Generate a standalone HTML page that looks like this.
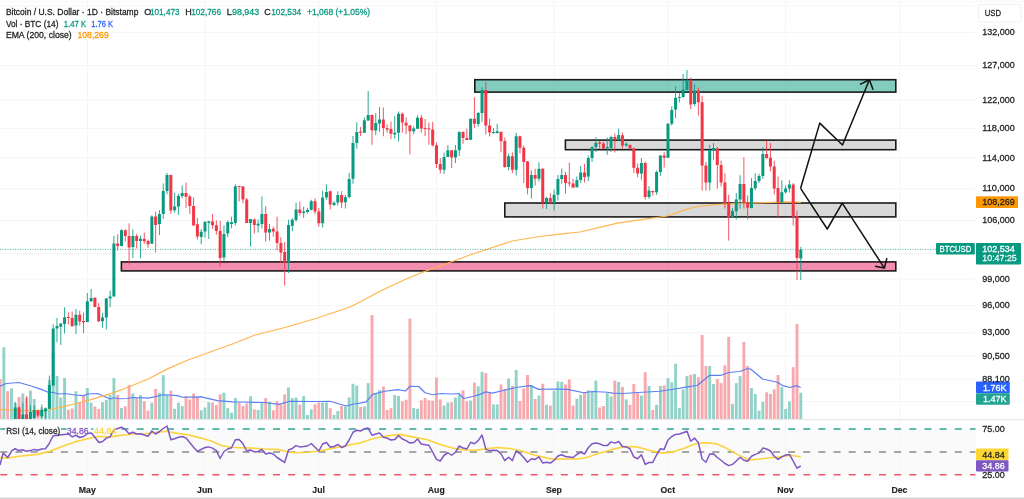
<!DOCTYPE html>
<html><head><meta charset="utf-8"><title>BTCUSD</title>
<style>html,body{margin:0;padding:0;background:#fff;overflow:hidden}body{width:1024px;height:499px;font-family:"Liberation Sans",sans-serif}</style></head>
<body>
<svg width="1024" height="499" viewBox="0 0 1024 499" style="display:block;font-family:'Liberation Sans',sans-serif">
<rect x="0" y="0" width="1024" height="499" fill="#ffffff"/>
<rect x="0" y="429" width="975.5" height="45.75" fill="#fafafa"/>
<path d="M0 32.40H975.5M0 65.50H975.5M0 99.90H975.5M0 128.50H975.5M0 158.10H975.5M0 188.75H975.5M0 220.50H975.5M0 253.50H975.5M0 279.10H975.5M0 305.50H975.5M0 332.70H975.5M0 356.10H975.5M0 379.10H975.5M0 401.50H975.5M87.50 2V480.5M205.00 2V480.5M318.85 2V480.5M436.50 2V480.5M554.10 2V480.5M668.00 2V480.5M785.60 2V480.5M899.60 2V480.5" stroke="#f5f5f6" stroke-width="1" fill="none"/>
<path d="M0 6H975.5" stroke="#f4f4f5" stroke-width="1" fill="none"/>
<path d="M0 1.4H1024" stroke="#f7f7f8" stroke-width="1" fill="none"/>
<rect x="474.80" y="79.70" width="421.00" height="12.40" fill="rgba(8,153,129,0.5)" stroke="#1a1a1a" stroke-width="1.6"/>
<rect x="565.40" y="140.10" width="330.40" height="9.60" fill="rgba(0,0,0,0.15)" stroke="#1a1a1a" stroke-width="1.6"/>
<rect x="504.80" y="203.00" width="391.00" height="13.90" fill="rgba(0,0,0,0.15)" stroke="#1a1a1a" stroke-width="1.6"/>
<rect x="121.40" y="261.90" width="774.40" height="9.00" fill="rgba(233,30,99,0.5)" stroke="#1a1a1a" stroke-width="1.6"/>
<rect x="-1.39" y="379.00" width="2.9" height="40.00" fill="#f8a9ae"/>
<rect x="2.40" y="347.25" width="2.9" height="71.75" fill="#92d2c8"/>
<rect x="6.19" y="391.25" width="2.9" height="27.75" fill="#f8a9ae"/>
<rect x="9.99" y="388.40" width="2.9" height="30.60" fill="#92d2c8"/>
<rect x="13.79" y="403.00" width="2.9" height="16.00" fill="#92d2c8"/>
<rect x="17.58" y="397.00" width="2.9" height="22.00" fill="#f8a9ae"/>
<rect x="21.38" y="393.50" width="2.9" height="25.50" fill="#92d2c8"/>
<rect x="25.17" y="397.75" width="2.9" height="21.25" fill="#f8a9ae"/>
<rect x="28.96" y="390.60" width="2.9" height="28.40" fill="#92d2c8"/>
<rect x="32.76" y="399.00" width="2.9" height="20.00" fill="#92d2c8"/>
<rect x="36.55" y="409.75" width="2.9" height="9.25" fill="#f8a9ae"/>
<rect x="40.35" y="407.50" width="2.9" height="11.50" fill="#92d2c8"/>
<rect x="44.14" y="408.00" width="2.9" height="11.00" fill="#92d2c8"/>
<rect x="47.94" y="380.00" width="2.9" height="39.00" fill="#92d2c8"/>
<rect x="51.73" y="352.00" width="2.9" height="67.00" fill="#92d2c8"/>
<rect x="55.53" y="376.00" width="2.9" height="43.00" fill="#92d2c8"/>
<rect x="59.32" y="397.50" width="2.9" height="21.50" fill="#92d2c8"/>
<rect x="63.12" y="378.00" width="2.9" height="41.00" fill="#92d2c8"/>
<rect x="66.91" y="409.75" width="2.9" height="9.25" fill="#f8a9ae"/>
<rect x="70.71" y="408.50" width="2.9" height="10.50" fill="#f8a9ae"/>
<rect x="74.50" y="391.25" width="2.9" height="27.75" fill="#92d2c8"/>
<rect x="78.30" y="403.00" width="2.9" height="16.00" fill="#f8a9ae"/>
<rect x="82.09" y="395.00" width="2.9" height="24.00" fill="#f8a9ae"/>
<rect x="85.89" y="388.00" width="2.9" height="31.00" fill="#92d2c8"/>
<rect x="89.68" y="402.75" width="2.9" height="16.25" fill="#92d2c8"/>
<rect x="93.48" y="406.50" width="2.9" height="12.50" fill="#f8a9ae"/>
<rect x="97.27" y="409.00" width="2.9" height="10.00" fill="#f8a9ae"/>
<rect x="101.07" y="402.25" width="2.9" height="16.75" fill="#92d2c8"/>
<rect x="104.86" y="400.00" width="2.9" height="19.00" fill="#92d2c8"/>
<rect x="108.66" y="395.00" width="2.9" height="24.00" fill="#92d2c8"/>
<rect x="112.45" y="378.00" width="2.9" height="41.00" fill="#92d2c8"/>
<rect x="116.25" y="395.00" width="2.9" height="24.00" fill="#f8a9ae"/>
<rect x="120.04" y="408.10" width="2.9" height="10.90" fill="#92d2c8"/>
<rect x="123.84" y="406.25" width="2.9" height="12.75" fill="#f8a9ae"/>
<rect x="127.64" y="385.00" width="2.9" height="34.00" fill="#f8a9ae"/>
<rect x="131.43" y="393.50" width="2.9" height="25.50" fill="#92d2c8"/>
<rect x="135.22" y="398.10" width="2.9" height="20.90" fill="#f8a9ae"/>
<rect x="139.02" y="395.00" width="2.9" height="24.00" fill="#92d2c8"/>
<rect x="142.81" y="401.25" width="2.9" height="17.75" fill="#f8a9ae"/>
<rect x="146.61" y="410.60" width="2.9" height="8.40" fill="#f8a9ae"/>
<rect x="150.41" y="402.75" width="2.9" height="16.25" fill="#92d2c8"/>
<rect x="154.20" y="389.00" width="2.9" height="30.00" fill="#f8a9ae"/>
<rect x="158.00" y="392.75" width="2.9" height="26.25" fill="#92d2c8"/>
<rect x="161.79" y="375.25" width="2.9" height="43.75" fill="#92d2c8"/>
<rect x="165.59" y="394.75" width="2.9" height="24.25" fill="#92d2c8"/>
<rect x="169.38" y="390.60" width="2.9" height="28.40" fill="#f8a9ae"/>
<rect x="173.18" y="408.75" width="2.9" height="10.25" fill="#92d2c8"/>
<rect x="176.97" y="402.75" width="2.9" height="16.25" fill="#92d2c8"/>
<rect x="180.77" y="406.00" width="2.9" height="13.00" fill="#92d2c8"/>
<rect x="184.56" y="396.00" width="2.9" height="23.00" fill="#f8a9ae"/>
<rect x="188.35" y="399.40" width="2.9" height="19.60" fill="#f8a9ae"/>
<rect x="192.15" y="393.50" width="2.9" height="25.50" fill="#f8a9ae"/>
<rect x="195.94" y="396.90" width="2.9" height="22.10" fill="#f8a9ae"/>
<rect x="199.74" y="410.25" width="2.9" height="8.75" fill="#92d2c8"/>
<rect x="203.53" y="407.50" width="2.9" height="11.50" fill="#92d2c8"/>
<rect x="207.33" y="402.25" width="2.9" height="16.75" fill="#92d2c8"/>
<rect x="211.12" y="402.50" width="2.9" height="16.50" fill="#f8a9ae"/>
<rect x="214.92" y="405.00" width="2.9" height="14.00" fill="#f8a9ae"/>
<rect x="218.72" y="394.40" width="2.9" height="24.60" fill="#f8a9ae"/>
<rect x="222.51" y="392.75" width="2.9" height="26.25" fill="#92d2c8"/>
<rect x="226.31" y="408.10" width="2.9" height="10.90" fill="#92d2c8"/>
<rect x="230.10" y="412.75" width="2.9" height="6.25" fill="#92d2c8"/>
<rect x="233.90" y="398.10" width="2.9" height="20.90" fill="#92d2c8"/>
<rect x="237.69" y="402.50" width="2.9" height="16.50" fill="#f8a9ae"/>
<rect x="241.49" y="406.00" width="2.9" height="13.00" fill="#f8a9ae"/>
<rect x="245.28" y="403.50" width="2.9" height="15.50" fill="#f8a9ae"/>
<rect x="249.07" y="396.25" width="2.9" height="22.75" fill="#92d2c8"/>
<rect x="252.87" y="409.40" width="2.9" height="9.60" fill="#f8a9ae"/>
<rect x="256.67" y="410.00" width="2.9" height="9.00" fill="#92d2c8"/>
<rect x="260.46" y="403.10" width="2.9" height="15.90" fill="#92d2c8"/>
<rect x="264.26" y="398.10" width="2.9" height="20.90" fill="#f8a9ae"/>
<rect x="268.05" y="401.90" width="2.9" height="17.10" fill="#92d2c8"/>
<rect x="271.85" y="410.25" width="2.9" height="8.75" fill="#f8a9ae"/>
<rect x="275.64" y="401.25" width="2.9" height="17.75" fill="#f8a9ae"/>
<rect x="279.44" y="404.40" width="2.9" height="14.60" fill="#f8a9ae"/>
<rect x="283.23" y="394.40" width="2.9" height="24.60" fill="#f8a9ae"/>
<rect x="287.03" y="387.50" width="2.9" height="31.50" fill="#92d2c8"/>
<rect x="290.82" y="398.10" width="2.9" height="20.90" fill="#92d2c8"/>
<rect x="294.62" y="397.50" width="2.9" height="21.50" fill="#92d2c8"/>
<rect x="298.41" y="404.75" width="2.9" height="14.25" fill="#f8a9ae"/>
<rect x="302.21" y="396.00" width="2.9" height="23.00" fill="#92d2c8"/>
<rect x="306.00" y="415.00" width="2.9" height="4.00" fill="#92d2c8"/>
<rect x="309.80" y="409.40" width="2.9" height="9.60" fill="#92d2c8"/>
<rect x="313.59" y="404.40" width="2.9" height="14.60" fill="#f8a9ae"/>
<rect x="317.39" y="402.50" width="2.9" height="16.50" fill="#f8a9ae"/>
<rect x="321.18" y="402.50" width="2.9" height="16.50" fill="#92d2c8"/>
<rect x="324.98" y="402.50" width="2.9" height="16.50" fill="#92d2c8"/>
<rect x="328.77" y="408.10" width="2.9" height="10.90" fill="#f8a9ae"/>
<rect x="332.57" y="415.00" width="2.9" height="4.00" fill="#92d2c8"/>
<rect x="336.36" y="411.00" width="2.9" height="8.00" fill="#92d2c8"/>
<rect x="340.16" y="406.00" width="2.9" height="13.00" fill="#f8a9ae"/>
<rect x="343.95" y="406.50" width="2.9" height="12.50" fill="#92d2c8"/>
<rect x="347.75" y="397.50" width="2.9" height="21.50" fill="#92d2c8"/>
<rect x="351.54" y="383.75" width="2.9" height="35.25" fill="#92d2c8"/>
<rect x="355.34" y="385.60" width="2.9" height="33.40" fill="#92d2c8"/>
<rect x="359.13" y="407.00" width="2.9" height="12.00" fill="#f8a9ae"/>
<rect x="362.93" y="406.50" width="2.9" height="12.50" fill="#92d2c8"/>
<rect x="366.72" y="383.10" width="2.9" height="35.90" fill="#92d2c8"/>
<rect x="370.52" y="315.00" width="2.9" height="104.00" fill="#f8a9ae"/>
<rect x="374.31" y="393.50" width="2.9" height="25.50" fill="#92d2c8"/>
<rect x="378.11" y="390.00" width="2.9" height="29.00" fill="#92d2c8"/>
<rect x="381.90" y="386.50" width="2.9" height="32.50" fill="#f8a9ae"/>
<rect x="385.70" y="410.00" width="2.9" height="9.00" fill="#f8a9ae"/>
<rect x="389.49" y="408.10" width="2.9" height="10.90" fill="#f8a9ae"/>
<rect x="393.29" y="395.00" width="2.9" height="24.00" fill="#92d2c8"/>
<rect x="397.08" y="396.00" width="2.9" height="23.00" fill="#92d2c8"/>
<rect x="400.88" y="401.25" width="2.9" height="17.75" fill="#f8a9ae"/>
<rect x="404.67" y="399.75" width="2.9" height="19.25" fill="#f8a9ae"/>
<rect x="408.47" y="318.50" width="2.9" height="100.50" fill="#f8a9ae"/>
<rect x="412.26" y="408.10" width="2.9" height="10.90" fill="#92d2c8"/>
<rect x="416.06" y="408.75" width="2.9" height="10.25" fill="#92d2c8"/>
<rect x="419.85" y="400.25" width="2.9" height="18.75" fill="#f8a9ae"/>
<rect x="423.65" y="398.10" width="2.9" height="20.90" fill="#f8a9ae"/>
<rect x="427.44" y="400.25" width="2.9" height="18.75" fill="#f8a9ae"/>
<rect x="431.24" y="400.60" width="2.9" height="18.40" fill="#f8a9ae"/>
<rect x="435.03" y="377.50" width="2.9" height="41.50" fill="#f8a9ae"/>
<rect x="438.83" y="399.40" width="2.9" height="19.60" fill="#f8a9ae"/>
<rect x="442.62" y="405.60" width="2.9" height="13.40" fill="#92d2c8"/>
<rect x="446.42" y="402.50" width="2.9" height="16.50" fill="#92d2c8"/>
<rect x="450.21" y="402.25" width="2.9" height="16.75" fill="#f8a9ae"/>
<rect x="454.01" y="397.50" width="2.9" height="21.50" fill="#92d2c8"/>
<rect x="457.80" y="395.00" width="2.9" height="24.00" fill="#92d2c8"/>
<rect x="461.60" y="390.25" width="2.9" height="28.75" fill="#f8a9ae"/>
<rect x="465.39" y="401.25" width="2.9" height="17.75" fill="#f8a9ae"/>
<rect x="469.19" y="400.60" width="2.9" height="18.40" fill="#92d2c8"/>
<rect x="472.98" y="382.50" width="2.9" height="36.50" fill="#f8a9ae"/>
<rect x="476.78" y="386.25" width="2.9" height="32.75" fill="#92d2c8"/>
<rect x="480.57" y="371.90" width="2.9" height="47.10" fill="#92d2c8"/>
<rect x="484.37" y="373.10" width="2.9" height="45.90" fill="#f8a9ae"/>
<rect x="488.16" y="393.10" width="2.9" height="25.90" fill="#f8a9ae"/>
<rect x="491.96" y="404.40" width="2.9" height="14.60" fill="#92d2c8"/>
<rect x="495.75" y="404.40" width="2.9" height="14.60" fill="#92d2c8"/>
<rect x="499.55" y="384.40" width="2.9" height="34.60" fill="#f8a9ae"/>
<rect x="503.34" y="389.00" width="2.9" height="30.00" fill="#f8a9ae"/>
<rect x="507.14" y="378.50" width="2.9" height="40.50" fill="#92d2c8"/>
<rect x="510.93" y="386.00" width="2.9" height="33.00" fill="#f8a9ae"/>
<rect x="514.73" y="370.00" width="2.9" height="49.00" fill="#92d2c8"/>
<rect x="518.52" y="401.00" width="2.9" height="18.00" fill="#f8a9ae"/>
<rect x="522.31" y="388.50" width="2.9" height="30.50" fill="#f8a9ae"/>
<rect x="526.11" y="375.00" width="2.9" height="44.00" fill="#f8a9ae"/>
<rect x="529.90" y="385.00" width="2.9" height="34.00" fill="#92d2c8"/>
<rect x="533.70" y="399.00" width="2.9" height="20.00" fill="#f8a9ae"/>
<rect x="537.50" y="395.60" width="2.9" height="23.40" fill="#92d2c8"/>
<rect x="541.29" y="383.75" width="2.9" height="35.25" fill="#f8a9ae"/>
<rect x="545.08" y="404.75" width="2.9" height="14.25" fill="#92d2c8"/>
<rect x="548.88" y="405.60" width="2.9" height="13.40" fill="#f8a9ae"/>
<rect x="552.67" y="390.60" width="2.9" height="28.40" fill="#92d2c8"/>
<rect x="556.47" y="381.50" width="2.9" height="37.50" fill="#92d2c8"/>
<rect x="560.26" y="381.90" width="2.9" height="37.10" fill="#92d2c8"/>
<rect x="564.06" y="384.40" width="2.9" height="34.60" fill="#f8a9ae"/>
<rect x="567.86" y="379.40" width="2.9" height="39.60" fill="#f8a9ae"/>
<rect x="571.65" y="405.60" width="2.9" height="13.40" fill="#f8a9ae"/>
<rect x="575.44" y="398.75" width="2.9" height="20.25" fill="#92d2c8"/>
<rect x="579.24" y="394.75" width="2.9" height="24.25" fill="#92d2c8"/>
<rect x="583.03" y="392.75" width="2.9" height="26.25" fill="#f8a9ae"/>
<rect x="586.83" y="390.25" width="2.9" height="28.75" fill="#92d2c8"/>
<rect x="590.62" y="391.90" width="2.9" height="27.10" fill="#92d2c8"/>
<rect x="594.42" y="380.60" width="2.9" height="38.40" fill="#92d2c8"/>
<rect x="598.21" y="407.50" width="2.9" height="11.50" fill="#f8a9ae"/>
<rect x="602.01" y="406.00" width="2.9" height="13.00" fill="#f8a9ae"/>
<rect x="605.80" y="392.75" width="2.9" height="26.25" fill="#92d2c8"/>
<rect x="609.60" y="396.50" width="2.9" height="22.50" fill="#92d2c8"/>
<rect x="613.39" y="380.60" width="2.9" height="38.40" fill="#f8a9ae"/>
<rect x="617.19" y="381.90" width="2.9" height="37.10" fill="#92d2c8"/>
<rect x="620.99" y="386.90" width="2.9" height="32.10" fill="#f8a9ae"/>
<rect x="624.78" y="399.40" width="2.9" height="19.60" fill="#92d2c8"/>
<rect x="628.57" y="404.75" width="2.9" height="14.25" fill="#f8a9ae"/>
<rect x="632.37" y="384.00" width="2.9" height="35.00" fill="#f8a9ae"/>
<rect x="636.16" y="393.10" width="2.9" height="25.90" fill="#f8a9ae"/>
<rect x="639.96" y="395.60" width="2.9" height="23.40" fill="#92d2c8"/>
<rect x="643.75" y="372.25" width="2.9" height="46.75" fill="#f8a9ae"/>
<rect x="647.55" y="386.00" width="2.9" height="33.00" fill="#92d2c8"/>
<rect x="651.34" y="410.00" width="2.9" height="9.00" fill="#f8a9ae"/>
<rect x="655.14" y="404.75" width="2.9" height="14.25" fill="#92d2c8"/>
<rect x="658.93" y="386.00" width="2.9" height="33.00" fill="#92d2c8"/>
<rect x="662.73" y="385.40" width="2.9" height="33.60" fill="#f8a9ae"/>
<rect x="666.52" y="378.10" width="2.9" height="40.90" fill="#92d2c8"/>
<rect x="670.32" y="382.25" width="2.9" height="36.75" fill="#92d2c8"/>
<rect x="674.12" y="363.75" width="2.9" height="55.25" fill="#92d2c8"/>
<rect x="677.91" y="408.10" width="2.9" height="10.90" fill="#92d2c8"/>
<rect x="681.70" y="389.40" width="2.9" height="29.60" fill="#92d2c8"/>
<rect x="685.50" y="376.00" width="2.9" height="43.00" fill="#92d2c8"/>
<rect x="689.29" y="374.75" width="2.9" height="44.25" fill="#f8a9ae"/>
<rect x="693.09" y="374.00" width="2.9" height="45.00" fill="#92d2c8"/>
<rect x="696.88" y="377.25" width="2.9" height="41.75" fill="#f8a9ae"/>
<rect x="700.68" y="335.00" width="2.9" height="84.00" fill="#f8a9ae"/>
<rect x="704.47" y="366.00" width="2.9" height="53.00" fill="#f8a9ae"/>
<rect x="708.27" y="366.00" width="2.9" height="53.00" fill="#92d2c8"/>
<rect x="712.06" y="384.00" width="2.9" height="35.00" fill="#92d2c8"/>
<rect x="715.86" y="379.00" width="2.9" height="40.00" fill="#f8a9ae"/>
<rect x="719.65" y="383.10" width="2.9" height="35.90" fill="#f8a9ae"/>
<rect x="723.45" y="365.25" width="2.9" height="53.75" fill="#f8a9ae"/>
<rect x="727.25" y="336.90" width="2.9" height="82.10" fill="#f8a9ae"/>
<rect x="731.04" y="403.75" width="2.9" height="15.25" fill="#92d2c8"/>
<rect x="734.83" y="383.10" width="2.9" height="35.90" fill="#92d2c8"/>
<rect x="738.63" y="376.00" width="2.9" height="43.00" fill="#92d2c8"/>
<rect x="742.42" y="341.90" width="2.9" height="77.10" fill="#f8a9ae"/>
<rect x="746.22" y="366.00" width="2.9" height="53.00" fill="#f8a9ae"/>
<rect x="750.01" y="388.10" width="2.9" height="30.90" fill="#92d2c8"/>
<rect x="753.81" y="394.00" width="2.9" height="25.00" fill="#92d2c8"/>
<rect x="757.61" y="410.60" width="2.9" height="8.40" fill="#92d2c8"/>
<rect x="761.40" y="401.90" width="2.9" height="17.10" fill="#92d2c8"/>
<rect x="765.19" y="392.25" width="2.9" height="26.75" fill="#f8a9ae"/>
<rect x="768.99" y="394.00" width="2.9" height="25.00" fill="#f8a9ae"/>
<rect x="772.78" y="389.40" width="2.9" height="29.60" fill="#f8a9ae"/>
<rect x="776.58" y="375.00" width="2.9" height="44.00" fill="#f8a9ae"/>
<rect x="780.38" y="387.25" width="2.9" height="31.75" fill="#92d2c8"/>
<rect x="784.17" y="409.00" width="2.9" height="10.00" fill="#92d2c8"/>
<rect x="787.96" y="401.50" width="2.9" height="17.50" fill="#92d2c8"/>
<rect x="791.76" y="367.25" width="2.9" height="51.75" fill="#f8a9ae"/>
<rect x="795.55" y="324.00" width="2.9" height="95.00" fill="#f8a9ae"/>
<rect x="799.35" y="392.75" width="2.9" height="26.25" fill="#92d2c8"/>
<polyline fill="none" stroke="#5b80f5" stroke-width="1.25" stroke-linejoin="round" points="0.00,386.25 6.25,383.50 18.75,382.50 31.25,386.00 41.25,389.40 48.75,392.50 52.50,392.25 58.75,394.00 65.00,393.50 75.00,395.00 83.75,395.60 87.50,394.00 97.50,393.50 103.75,396.25 110.00,399.00 114.00,397.75 118.75,398.75 128.00,398.50 132.50,397.50 148.75,398.10 163.25,394.75 177.50,395.60 182.50,397.25 201.25,396.90 217.50,400.60 232.50,401.90 240.00,402.00 265.00,402.50 278.75,404.40 290.00,401.25 315.00,401.50 330.00,401.25 346.25,406.00 355.00,403.75 360.00,403.10 366.25,401.90 372.50,394.40 385.00,391.25 397.50,389.60 405.60,391.00 410.00,386.25 418.75,386.50 425.00,392.75 432.50,394.75 441.25,393.50 452.50,394.00 458.75,393.50 463.75,398.50 472.50,396.50 480.00,394.40 485.60,391.90 492.50,393.10 505.00,390.00 517.50,387.25 530.60,385.60 538.75,389.40 555.00,389.00 567.50,389.40 583.75,392.75 592.50,391.50 608.00,392.25 612.50,393.10 622.50,393.50 642.50,392.25 660.00,391.25 675.00,389.00 687.50,386.90 697.50,385.25 709.75,375.25 721.25,375.25 728.75,372.50 740.00,371.50 747.50,368.50 751.25,369.40 762.50,379.00 777.50,382.25 782.50,385.60 790.00,387.50 796.25,385.60 800.75,387.50"/>
<polyline fill="none" stroke="#ffb54d" stroke-width="1.2" stroke-linejoin="round" points="0.00,409.40 12.50,410.25 31.00,410.60 41.00,410.25 50.00,409.75 62.50,406.90 75.00,403.75 87.50,400.60 100.00,396.90 112.50,393.10 128.00,387.25 148.75,378.75 168.00,368.60 188.00,360.00 210.00,352.00 232.50,344.00 255.00,335.00 285.00,327.50 315.00,318.75 350.00,307.00 360.00,302.00 380.00,291.25 405.00,279.50 425.00,271.25 436.00,267.50 470.00,255.00 512.00,241.00 540.00,236.50 562.00,233.80 580.00,232.00 617.50,223.10 645.00,219.10 667.50,216.00 686.00,209.40 697.50,206.50 708.00,205.30 715.00,204.50 740.00,203.30 765.00,202.60 790.00,201.80 797.00,202.10 800.80,202.40"/>
<path d="M0 249.4H936" stroke="#089981" stroke-width="1" stroke-dasharray="1 1.5" fill="none" opacity="0.7"/>
<path d="M15.23 402.00V419.00M22.83 402.75V419.00M30.41 405.40V419.00M34.21 405.60V419.00M41.80 404.40V418.00M45.59 407.50V418.75M49.39 375.60V409.00M53.19 324.25V386.00M56.98 318.00V342.40M60.77 323.50V344.90M64.57 307.25V333.60M75.95 309.00V334.00M87.34 293.00V322.25M91.13 289.00V302.00M102.52 313.00V327.75M106.31 298.10V329.60M110.11 290.60V307.25M113.90 235.90V296.50M121.49 229.00V246.25M132.88 229.25V258.00M140.47 235.50V258.40M151.85 215.25V243.75M159.44 210.00V235.00M163.24 183.40V219.00M167.03 173.00V194.25M174.62 193.00V212.75M178.42 193.75V215.00M182.22 185.50V198.40M201.19 229.00V244.25M204.98 220.90V237.75M208.78 220.90V239.00M223.96 225.40V260.75M227.75 220.50V237.00M231.55 216.60V228.25M235.34 184.40V225.40M250.52 218.90V246.60M258.12 219.50V232.50M261.91 196.50V228.50M269.50 224.00V240.75M288.48 219.75V273.00M292.27 218.25V231.25M296.06 202.90V221.60M303.66 206.60V217.90M307.45 207.90V213.50M311.25 199.75V210.40M322.63 190.60V227.50M326.43 184.40V199.75M334.02 201.10V206.00M337.81 191.25V205.40M345.40 195.00V208.50M349.19 173.00V198.50M352.99 136.00V183.75M356.79 122.25V148.75M364.38 117.50V133.10M368.17 91.00V120.80M375.76 113.00V135.25M379.56 106.90V131.90M394.74 116.00V138.75M398.53 111.50V141.50M413.71 126.25V134.40M417.50 115.25V129.00M444.07 152.50V174.00M447.87 145.00V157.00M455.46 145.00V163.00M459.25 131.25V156.00M470.63 118.50V140.00M478.23 111.90V126.90M482.02 87.25V121.90M493.41 128.00V133.75M497.20 123.75V133.75M508.59 153.50V170.25M516.18 132.75V175.60M531.36 170.25V198.50M538.95 162.25V181.50M546.53 196.90V209.00M554.12 189.40V210.60M557.92 175.00V200.60M561.72 168.50V183.75M576.89 176.40V187.50M580.69 166.00V183.10M588.28 155.60V181.25M592.08 146.25V161.90M595.87 137.25V151.90M607.25 137.50V154.75M611.05 135.60V151.90M618.64 128.50V141.25M626.23 141.90V146.90M641.41 158.10V179.75M649.00 186.00V198.75M656.59 170.60V194.75M660.38 155.00V176.00M667.98 123.10V158.00M671.77 106.25V125.60M675.57 86.25V118.10M679.36 93.10V102.50M683.15 74.00V98.10M686.95 70.00V91.90M694.54 84.40V106.00M709.72 144.75V190.60M713.51 143.10V159.75M732.49 208.10V217.50M736.28 193.10V219.40M740.08 175.25V208.75M751.47 178.10V208.25M755.26 173.10V190.25M759.06 173.75V183.10M762.85 147.25V178.75M781.83 180.25V202.50M785.62 185.25V193.50M789.41 180.25V192.50M800.80 246.90V280.00" stroke="#089981" stroke-width="0.85" fill="none"/>
<path d="M19.03 406.25V419.00M26.62 396.00V419.00M38.01 410.00V417.00M68.36 312.50V324.40M72.16 311.60V326.50M79.75 310.60V325.60M83.54 312.50V333.25M94.93 297.50V307.10M98.72 303.00V322.00M117.70 234.25V250.50M125.29 229.25V241.50M129.09 223.40V264.60M136.67 234.00V248.40M144.26 232.50V243.75M148.06 239.60V247.75M155.65 211.75V252.50M170.83 174.60V213.75M186.01 182.50V207.75M189.80 194.60V214.00M193.60 197.50V225.50M197.39 218.00V239.60M212.57 214.00V229.00M216.37 220.25V234.60M220.16 220.90V266.50M239.14 185.90V201.40M242.94 186.00V203.25M246.73 198.00V223.00M254.32 218.50V233.50M265.71 206.25V241.60M273.30 226.60V236.60M277.09 216.60V250.40M280.88 237.25V263.00M284.68 242.00V285.60M299.86 201.60V215.40M315.04 198.25V214.10M318.84 207.90V226.60M330.22 190.60V209.50M341.61 191.25V208.25M360.58 126.90V136.00M371.97 114.40V144.75M383.35 107.50V136.25M387.15 124.40V132.75M390.94 121.90V139.00M402.32 112.50V132.75M406.12 117.50V134.00M409.92 125.00V154.40M421.30 115.00V132.75M425.10 119.00V136.00M428.89 122.50V144.75M432.69 121.90V146.50M436.48 142.50V168.00M440.28 158.00V173.50M451.66 150.00V168.00M463.05 131.25V143.75M466.84 128.75V140.25M474.43 97.25V128.00M485.81 81.90V134.40M489.61 118.75V136.50M501.00 131.25V152.25M504.79 137.50V167.75M512.38 152.50V173.10M519.97 135.60V153.50M523.76 145.60V183.10M527.56 161.00V194.40M535.15 168.75V185.60M542.74 168.10V208.50M550.33 193.10V203.50M565.51 171.90V193.50M569.31 162.50V186.50M573.10 178.90V188.10M584.49 164.00V182.50M599.66 140.60V148.75M603.46 141.90V148.75M614.85 133.50V152.50M622.44 132.50V148.50M630.02 144.40V149.40M633.82 147.50V173.10M637.62 163.50V177.25M645.21 161.50V199.40M652.79 190.60V195.60M664.18 151.90V167.50M690.75 77.50V109.40M698.34 87.50V115.60M702.13 95.60V190.60M705.92 161.90V190.60M717.31 146.90V188.75M721.11 160.60V186.50M724.90 173.10V208.50M728.70 194.75V240.60M743.88 157.25V208.50M747.67 195.25V219.40M766.64 140.60V158.75M770.44 143.10V171.25M774.24 160.60V194.40M778.03 176.50V218.10M793.21 183.10V225.60M797.00 210.60V280.00" stroke="#f23645" stroke-width="0.85" fill="none"/>
<path d="M13.73 407.50h3V419.00h-3zM21.33 414.40h3V419.00h-3zM28.91 412.00h3V419.00h-3zM32.71 410.00h3V418.00h-3zM40.30 410.00h3V416.25h-3zM44.09 408.75h3V411.25h-3zM47.89 385.00h3V408.75h-3zM51.69 328.60h3V385.60h-3zM55.48 326.00h3V328.60h-3zM59.27 323.60h3V326.75h-3zM63.07 317.25h3V324.00h-3zM74.45 314.75h3V325.60h-3zM85.84 301.25h3V321.90h-3zM89.63 298.00h3V301.25h-3zM101.02 317.50h3V321.25h-3zM104.81 298.50h3V317.50h-3zM108.61 296.50h3V298.50h-3zM112.40 243.40h3V296.50h-3zM119.99 230.25h3V245.90h-3zM131.38 235.90h3V247.10h-3zM138.97 238.75h3V240.90h-3zM150.35 216.50h3V243.75h-3zM157.94 214.00h3V224.00h-3zM161.74 190.90h3V214.00h-3zM165.53 175.00h3V190.90h-3zM173.12 206.50h3V210.25h-3zM176.92 195.90h3V206.50h-3zM180.72 193.00h3V195.90h-3zM199.69 231.75h3V237.10h-3zM203.48 222.00h3V231.50h-3zM207.28 221.25h3V222.75h-3zM222.46 234.00h3V257.50h-3zM226.25 222.00h3V233.50h-3zM230.05 222.25h3V224.00h-3zM233.84 186.25h3V222.90h-3zM249.02 219.00h3V222.90h-3zM256.62 223.75h3V225.40h-3zM260.41 214.00h3V224.00h-3zM268.00 229.00h3V232.50h-3zM286.98 225.00h3V262.50h-3zM290.77 219.75h3V225.75h-3zM294.56 209.50h3V220.00h-3zM302.16 211.60h3V212.90h-3zM305.95 210.00h3V212.00h-3zM309.75 201.25h3V209.75h-3zM321.13 197.50h3V223.25h-3zM324.93 191.90h3V197.50h-3zM332.52 202.75h3V205.00h-3zM336.31 195.00h3V202.60h-3zM343.90 197.25h3V202.25h-3zM347.69 179.00h3V197.10h-3zM351.49 143.10h3V178.75h-3zM355.29 131.90h3V143.10h-3zM362.88 120.25h3V132.75h-3zM366.67 115.00h3V120.60h-3zM374.26 123.00h3V130.60h-3zM378.06 119.40h3V123.50h-3zM393.24 132.75h3V134.40h-3zM397.03 113.75h3V132.75h-3zM412.21 128.50h3V131.25h-3zM416.00 117.75h3V128.75h-3zM442.57 156.90h3V169.75h-3zM446.37 150.25h3V156.90h-3zM453.96 150.25h3V157.50h-3zM457.75 131.90h3V150.25h-3zM469.13 118.75h3V139.75h-3zM476.73 113.00h3V124.00h-3zM480.52 90.00h3V113.00h-3zM491.91 131.90h3V133.10h-3zM495.70 131.25h3V132.90h-3zM507.09 156.25h3V166.90h-3zM514.68 136.25h3V169.75h-3zM529.86 175.00h3V188.10h-3zM537.45 168.75h3V178.75h-3zM545.03 198.10h3V202.25h-3zM552.62 194.75h3V203.10h-3zM556.42 179.00h3V194.75h-3zM560.22 175.00h3V179.00h-3zM575.39 179.90h3V187.25h-3zM579.19 172.50h3V180.00h-3zM586.78 158.10h3V176.50h-3zM590.58 146.90h3V158.10h-3zM594.37 142.75h3V146.90h-3zM605.75 147.25h3V148.50h-3zM609.55 136.90h3V148.10h-3zM617.14 135.00h3V139.75h-3zM624.73 143.75h3V145.60h-3zM639.91 163.10h3V173.50h-3zM647.50 190.60h3V196.90h-3zM655.09 171.90h3V192.25h-3zM658.88 155.60h3V171.90h-3zM666.48 123.75h3V157.75h-3zM670.27 110.00h3V123.75h-3zM674.07 97.75h3V109.40h-3zM677.86 96.90h3V98.10h-3zM681.65 89.40h3V96.90h-3zM685.45 80.25h3V89.75h-3zM693.04 90.60h3V104.00h-3zM708.22 150.00h3V182.50h-3zM712.01 148.10h3V150.60h-3zM730.99 211.00h3V217.25h-3zM734.78 199.40h3V211.25h-3zM738.58 184.00h3V199.40h-3zM749.97 188.10h3V208.10h-3zM753.76 181.00h3V188.25h-3zM757.56 176.00h3V181.00h-3zM761.35 154.00h3V176.00h-3zM780.33 192.25h3V202.25h-3zM784.12 188.50h3V192.25h-3zM787.91 184.40h3V188.50h-3zM799.30 249.40h3V258.50h-3z" fill="#089981"/>
<path d="M17.53 407.50h3V419.00h-3zM25.12 414.40h3V419.00h-3zM36.51 410.60h3V415.60h-3zM66.86 316.90h3V317.90h-3zM70.66 318.00h3V326.25h-3zM78.25 314.75h3V321.50h-3zM82.04 321.00h3V322.25h-3zM93.43 297.75h3V306.90h-3zM97.22 306.90h3V321.25h-3zM116.20 243.40h3V245.90h-3zM123.79 230.25h3V235.90h-3zM127.59 235.90h3V247.50h-3zM135.17 235.90h3V240.90h-3zM142.76 238.75h3V241.25h-3zM146.56 240.90h3V244.25h-3zM154.15 216.50h3V225.00h-3zM169.33 175.00h3V210.50h-3zM184.51 193.00h3V196.75h-3zM188.30 196.50h3V205.90h-3zM192.10 205.90h3V225.50h-3zM195.89 224.25h3V236.50h-3zM211.07 221.50h3V225.25h-3zM214.87 225.25h3V230.90h-3zM218.66 230.90h3V258.00h-3zM237.64 186.00h3V187.00h-3zM241.44 186.50h3V199.40h-3zM245.23 199.60h3V222.90h-3zM252.82 219.50h3V225.00h-3zM264.21 214.00h3V232.50h-3zM271.80 228.75h3V231.60h-3zM275.59 231.60h3V242.90h-3zM279.38 242.90h3V252.60h-3zM283.18 252.00h3V262.50h-3zM298.36 209.50h3V212.90h-3zM313.54 201.25h3V211.60h-3zM317.34 211.60h3V223.25h-3zM328.72 191.25h3V204.40h-3zM340.11 195.00h3V202.40h-3zM359.08 131.50h3V132.75h-3zM370.47 115.00h3V130.25h-3zM381.85 119.40h3V128.00h-3zM385.65 128.00h3V129.40h-3zM389.44 129.00h3V133.75h-3zM400.82 113.75h3V122.50h-3zM404.62 122.75h3V125.60h-3zM408.42 125.60h3V131.25h-3zM419.80 117.75h3V128.50h-3zM423.60 128.00h3V129.00h-3zM427.39 128.45h3V129.45h-3zM431.19 129.40h3V145.25h-3zM434.98 145.25h3V164.00h-3zM438.78 164.00h3V169.75h-3zM450.16 150.25h3V157.40h-3zM461.55 131.90h3V138.10h-3zM465.34 138.10h3V140.00h-3zM472.93 118.75h3V123.75h-3zM484.31 90.00h3V125.60h-3zM488.11 125.40h3V132.60h-3zM499.50 132.00h3V141.25h-3zM503.29 141.00h3V166.90h-3zM510.88 156.25h3V169.75h-3zM518.47 136.25h3V147.75h-3zM522.26 147.75h3V161.90h-3zM526.06 161.50h3V188.10h-3zM533.65 175.00h3V178.75h-3zM541.24 168.75h3V202.25h-3zM548.83 198.10h3V203.10h-3zM564.01 175.10h3V183.10h-3zM567.81 182.40h3V183.60h-3zM571.60 183.40h3V187.50h-3zM582.99 172.50h3V177.00h-3zM598.16 142.50h3V143.75h-3zM601.96 143.50h3V148.50h-3zM613.35 136.90h3V140.00h-3zM620.94 135.25h3V145.60h-3zM628.52 145.00h3V148.50h-3zM632.32 148.50h3V167.75h-3zM636.12 167.75h3V173.50h-3zM643.71 163.10h3V196.90h-3zM651.29 191.00h3V192.25h-3zM662.68 155.60h3V157.75h-3zM689.25 80.25h3V104.40h-3zM696.84 90.60h3V102.25h-3zM700.63 102.25h3V165.60h-3zM704.42 165.60h3V182.60h-3zM715.81 148.50h3V165.00h-3zM719.61 165.00h3V182.50h-3zM723.40 182.50h3V203.10h-3zM727.20 203.10h3V217.25h-3zM742.38 184.00h3V202.25h-3zM746.17 202.25h3V207.75h-3zM765.14 154.00h3V158.10h-3zM768.94 157.75h3V166.50h-3zM772.74 166.50h3V188.50h-3zM776.53 188.10h3V202.50h-3zM791.71 184.40h3V216.90h-3zM795.50 216.25h3V258.10h-3z" fill="#f23645"/>
<g fill="none" stroke="#111" stroke-width="1.5" stroke-linejoin="round" stroke-linecap="butt">
<polyline points="800.6,188.3 819.75,123.1 842.5,145 869.4,79.75"/>
<polyline points="860,84.4 869.4,79.75 873.1,89.75"/>
<polyline points="800.6,188.3 827.25,229 842.25,203.1 884.4,268.1"/>
<polyline points="886.9,258.1 884.4,268.1 875,266.25"/>
</g>
<path d="M0 419.75H1024" stroke="#e3e5ea" stroke-width="1" fill="none"/>
<path d="M0.3 429H975.5" stroke="#2ba795" stroke-width="1.5" stroke-dasharray="7 8.15" fill="none"/>
<path d="M0.3 451.9H975.5" stroke="#8a8a8a" stroke-width="1.5" stroke-dasharray="7 8.15" fill="none"/>
<path d="M0.3 474.75H975.5" stroke="#f25565" stroke-width="1.5" stroke-dasharray="7 8.15" fill="none"/>
<rect x="5.3" y="425.5" width="55.7" height="6" fill="#fdfdfd"/>
<rect x="66.5" y="425.5" width="23" height="6" fill="#fdfdfd"/>
<rect x="93.3" y="425.5" width="24" height="6" fill="#fdfdfd"/>
<polyline fill="none" stroke="#fbd43d" stroke-width="1.6" stroke-linejoin="round" points="0.00,457.50 7.50,458.10 18.75,456.25 37.50,454.40 50.00,451.25 62.50,446.25 75.00,441.90 87.50,438.75 97.50,436.50 110.00,436.90 117.50,435.60 128.00,434.75 132.50,434.00 145.00,433.75 157.50,432.25 166.25,431.25 176.25,433.10 188.75,435.00 201.25,438.10 212.50,441.50 220.00,445.00 230.00,447.25 240.00,447.75 252.50,448.10 265.00,449.00 277.50,449.40 285.00,451.25 295.00,452.75 307.50,452.25 320.00,451.00 332.50,448.10 345.00,446.00 355.00,443.75 360.00,443.10 372.50,438.75 385.00,436.25 400.00,434.40 412.50,436.90 427.50,439.75 440.00,444.40 452.50,448.10 465.00,450.00 475.00,450.40 487.50,448.50 497.50,447.50 510.00,448.50 522.50,451.25 535.00,455.25 547.50,458.10 555.00,459.40 567.50,458.75 577.50,459.00 587.50,457.25 597.50,453.75 612.50,449.40 625.00,446.50 637.50,446.90 650.00,450.60 662.50,453.10 672.50,451.90 685.00,448.10 695.00,444.00 702.50,442.75 707.50,442.90 716.25,443.75 725.00,447.50 735.00,453.10 745.00,458.10 750.00,460.00 760.00,459.00 770.00,457.75 780.00,456.90 790.00,455.25 797.50,456.25 800.75,456.90"/>
<polyline fill="none" stroke="#7e57c2" stroke-width="1.5" stroke-linejoin="round" points="0.00,465.00 3.10,453.10 7.75,457.50 11.90,450.60 15.25,448.75 18.75,450.60 22.50,449.75 26.50,451.25 30.40,450.60 34.10,449.40 37.90,450.25 41.60,449.00 45.40,448.75 49.10,443.75 53.00,436.00 56.90,435.25 60.60,434.75 64.60,434.40 68.40,434.00 72.30,436.90 76.00,435.25 79.75,437.50 83.60,436.50 87.50,433.50 91.40,433.10 95.10,437.50 98.90,442.50 102.60,441.50 106.40,438.10 110.10,436.90 114.00,429.40 117.75,428.50 121.50,427.25 125.25,429.40 129.10,433.75 132.90,432.25 136.60,434.00 140.50,433.75 144.25,435.00 148.00,436.25 151.90,431.00 155.60,434.00 159.50,431.50 163.25,428.50 167.00,426.00 170.90,439.75 174.60,438.75 178.40,437.25 182.25,436.50 186.00,438.10 189.75,442.50 193.60,447.25 197.40,451.50 201.25,449.40 205.00,447.50 208.75,446.90 212.60,448.10 216.40,450.60 220.10,458.50 224.00,451.50 227.75,449.00 231.50,447.75 235.40,439.75 239.10,439.40 243.00,443.75 246.75,451.00 250.50,450.00 254.40,451.90 258.10,451.50 261.90,449.40 265.75,454.00 269.50,453.10 273.25,454.00 277.10,457.50 280.90,460.00 284.60,462.50 288.50,450.00 292.25,448.50 296.00,445.60 299.90,446.90 303.60,446.60 307.50,446.00 311.25,443.50 315.00,447.25 318.90,451.00 322.60,444.00 326.50,442.50 330.25,447.25 334.00,446.50 337.90,444.40 341.60,447.50 345.40,446.00 349.25,439.75 353.00,432.25 356.75,430.25 360.60,431.00 364.40,428.75 368.10,428.10 372.00,435.25 375.75,434.00 379.50,433.10 383.40,437.25 387.10,438.10 391.00,440.00 394.75,439.40 398.50,435.60 402.40,439.00 406.10,440.60 409.90,443.10 413.75,442.50 417.50,439.00 421.25,444.00 425.10,444.75 428.90,445.25 432.75,452.25 436.50,459.40 440.25,461.00 444.10,455.25 447.90,452.75 451.60,455.25 455.50,452.25 459.25,446.00 463.00,448.10 466.90,449.00 470.60,442.25 474.50,443.75 478.25,440.60 482.00,435.00 485.90,449.40 489.60,450.60 493.40,450.25 497.25,450.60 501.00,453.75 504.75,460.60 508.60,457.25 512.40,460.60 516.10,451.00 520.00,453.50 523.75,457.50 527.50,462.25 531.40,458.75 535.10,459.40 539.00,456.90 542.75,463.10 546.50,462.25 550.40,463.10 554.10,460.25 557.90,456.00 561.75,454.75 565.50,456.50 569.25,456.90 573.10,457.50 576.90,454.40 580.75,452.25 584.50,454.00 588.25,447.75 592.10,443.75 595.90,443.10 599.60,443.75 603.50,445.60 607.25,445.60 611.00,441.90 614.90,443.10 618.60,441.50 622.40,446.50 626.25,446.90 630.00,448.75 633.75,456.90 637.60,458.75 641.40,454.75 645.25,464.40 649.00,462.50 652.75,462.50 656.60,454.75 660.40,448.75 664.10,449.40 668.00,440.00 671.75,436.50 675.50,434.40 679.40,434.00 683.10,432.75 687.00,431.25 690.75,441.25 694.50,438.10 698.40,442.75 702.10,459.00 706.00,462.25 709.75,454.00 713.50,453.75 717.25,457.50 721.10,460.25 724.90,463.50 728.75,465.60 732.50,464.40 736.25,461.00 740.10,457.25 743.90,460.25 747.60,461.25 751.50,456.25 755.25,454.40 759.00,453.10 762.90,448.10 766.60,449.00 770.50,451.00 774.25,456.25 778.00,459.40 781.90,456.90 785.60,455.00 789.40,454.40 793.25,461.25 797.00,468.10 800.75,466.00"/>
<path d="M0 498.2H1024" stroke="#d5d5d5" stroke-width="1.4" fill="none"/>
<rect x="978.5" y="4.5" width="42.5" height="17.5" rx="2.5" fill="#fff" stroke="#efeff2" stroke-width="1"/>
<rect x="976" y="196.3" width="42" height="11.7" fill="#ff9800"/>
<rect x="936" y="243" width="38.8" height="11.5" rx="1" fill="#089981"/>
<rect x="976" y="243" width="45" height="21.5" rx="1" fill="#089981"/>
<rect x="976" y="381.5" width="33.8" height="11.7" rx="1" fill="#2962ff"/>
<rect x="976" y="393.2" width="33.8" height="11.6" rx="1" fill="#22a391"/>
<rect x="976" y="448.5" width="32.5" height="11.7" rx="1" fill="#fdd835"/>
<rect x="976" y="460.2" width="32.5" height="11.3" rx="1" fill="#7e57c2"/>
<g style="filter:opacity(1)">
<text x="982.3" y="35.02" font-size="9" fill="#1f2024" stroke="#1f2024" stroke-width="0.28" font-weight="normal" text-anchor="start" textLength="32.5" lengthAdjust="spacingAndGlyphs">132,000</text>
<text x="982.3" y="68.12" font-size="9" fill="#1f2024" stroke="#1f2024" stroke-width="0.28" font-weight="normal" text-anchor="start" textLength="32.5" lengthAdjust="spacingAndGlyphs">127,000</text>
<text x="982.3" y="102.52" font-size="9" fill="#1f2024" stroke="#1f2024" stroke-width="0.28" font-weight="normal" text-anchor="start" textLength="32.5" lengthAdjust="spacingAndGlyphs">122,000</text>
<text x="982.3" y="131.12" font-size="9" fill="#1f2024" stroke="#1f2024" stroke-width="0.28" font-weight="normal" text-anchor="start" textLength="32.5" lengthAdjust="spacingAndGlyphs">118,000</text>
<text x="982.3" y="160.72" font-size="9" fill="#1f2024" stroke="#1f2024" stroke-width="0.28" font-weight="normal" text-anchor="start" textLength="32.5" lengthAdjust="spacingAndGlyphs">114,000</text>
<text x="982.3" y="191.37" font-size="9" fill="#1f2024" stroke="#1f2024" stroke-width="0.28" font-weight="normal" text-anchor="start" textLength="32.5" lengthAdjust="spacingAndGlyphs">110,000</text>
<text x="982.3" y="223.12" font-size="9" fill="#1f2024" stroke="#1f2024" stroke-width="0.28" font-weight="normal" text-anchor="start" textLength="32.5" lengthAdjust="spacingAndGlyphs">106,000</text>
<text x="982.3" y="281.72" font-size="9" fill="#1f2024" stroke="#1f2024" stroke-width="0.28" font-weight="normal" text-anchor="start" textLength="27.5" lengthAdjust="spacingAndGlyphs">99,000</text>
<text x="982.3" y="308.12" font-size="9" fill="#1f2024" stroke="#1f2024" stroke-width="0.28" font-weight="normal" text-anchor="start" textLength="27.5" lengthAdjust="spacingAndGlyphs">96,000</text>
<text x="982.3" y="335.32" font-size="9" fill="#1f2024" stroke="#1f2024" stroke-width="0.28" font-weight="normal" text-anchor="start" textLength="27.5" lengthAdjust="spacingAndGlyphs">93,000</text>
<text x="982.3" y="358.72" font-size="9" fill="#1f2024" stroke="#1f2024" stroke-width="0.28" font-weight="normal" text-anchor="start" textLength="27.5" lengthAdjust="spacingAndGlyphs">90,500</text>
<text x="982.3" y="381.72" font-size="9" fill="#1f2024" stroke="#1f2024" stroke-width="0.28" font-weight="normal" text-anchor="start" textLength="27.5" lengthAdjust="spacingAndGlyphs">88,100</text>
<text x="982.3" y="432.22" font-size="9" fill="#1f2024" stroke="#1f2024" stroke-width="0.28" font-weight="normal" text-anchor="start" textLength="22.5" lengthAdjust="spacingAndGlyphs">75.00</text>
<text x="982.3" y="478.22" font-size="9" fill="#1f2024" stroke="#1f2024" stroke-width="0.28" font-weight="normal" text-anchor="start" textLength="22.5" lengthAdjust="spacingAndGlyphs">25.00</text>
<text x="984.8" y="16.12" font-size="9" fill="#1f2024" stroke="#1f2024" stroke-width="0.28" font-weight="normal" text-anchor="start" textLength="16.3" lengthAdjust="spacingAndGlyphs">USD</text>
<text x="982.3" y="205.32" font-size="9" fill="#1f2024" stroke="#1f2024" stroke-width="0.28" font-weight="normal" text-anchor="start" textLength="32.5" lengthAdjust="spacingAndGlyphs">108,269</text>
<text x="939.6" y="252.12" font-size="9" fill="#fff" stroke="#fff" stroke-width="0.28" font-weight="normal" text-anchor="start" textLength="31.6" lengthAdjust="spacingAndGlyphs">BTCUSD</text>
<text x="982.3" y="252.32" font-size="9" fill="#fff" stroke="#fff" stroke-width="0.28" font-weight="normal" text-anchor="start" textLength="32.5" lengthAdjust="spacingAndGlyphs">102,534</text>
<text x="982.3" y="261.42" font-size="9" fill="#fff" stroke="#fff" stroke-width="0.28" font-weight="normal" text-anchor="start" textLength="34.5" lengthAdjust="spacingAndGlyphs" fill-opacity="0.85">10:47:25</text>
<text x="983" y="390.62" font-size="9" fill="#fff" stroke="#fff" stroke-width="0.28" font-weight="normal" text-anchor="start" textLength="23.5" lengthAdjust="spacingAndGlyphs">1.76K</text>
<text x="983" y="402.22" font-size="9" fill="#fff" stroke="#fff" stroke-width="0.28" font-weight="normal" text-anchor="start" textLength="23.5" lengthAdjust="spacingAndGlyphs">1.47K</text>
<text x="982.3" y="457.52" font-size="9" fill="#1f2024" stroke="#1f2024" stroke-width="0.28" font-weight="normal" text-anchor="start" textLength="22.5" lengthAdjust="spacingAndGlyphs">44.84</text>
<text x="982.3" y="469.12" font-size="9" fill="#fff" stroke="#fff" stroke-width="0.28" font-weight="normal" text-anchor="start" textLength="22.5" lengthAdjust="spacingAndGlyphs">34.86</text>
<text x="87.3" y="493.2" font-size="8.7" fill="#1f2024" stroke="#1f2024" stroke-width="0.15" font-weight="bold" text-anchor="middle">May</text>
<text x="204.8" y="493.2" font-size="8.7" fill="#1f2024" stroke="#1f2024" stroke-width="0.15" font-weight="bold" text-anchor="middle">Jun</text>
<text x="318.65000000000003" y="493.2" font-size="8.7" fill="#1f2024" stroke="#1f2024" stroke-width="0.15" font-weight="bold" text-anchor="middle">Jul</text>
<text x="436.3" y="493.2" font-size="8.7" fill="#1f2024" stroke="#1f2024" stroke-width="0.15" font-weight="bold" text-anchor="middle">Aug</text>
<text x="553.9" y="493.2" font-size="8.7" fill="#1f2024" stroke="#1f2024" stroke-width="0.15" font-weight="bold" text-anchor="middle">Sep</text>
<text x="667.8" y="493.2" font-size="8.7" fill="#1f2024" stroke="#1f2024" stroke-width="0.15" font-weight="bold" text-anchor="middle">Oct</text>
<text x="785.4" y="493.2" font-size="8.7" fill="#1f2024" stroke="#1f2024" stroke-width="0.15" font-weight="bold" text-anchor="middle">Nov</text>
<text x="899.4" y="493.2" font-size="8.7" fill="#1f2024" stroke="#1f2024" stroke-width="0.15" font-weight="bold" text-anchor="middle">Dec</text>
<text x="5.9" y="15.3" font-size="9" fill="#1f2024" stroke="#1f2024" stroke-width="0.28" font-weight="normal" text-anchor="start" textLength="132.5" lengthAdjust="spacingAndGlyphs">Bitcoin / U.S. Dollar · 1D · Bitstamp</text>
<text x="144.3" y="15.3" font-size="9" fill="#1f2024" stroke="#1f2024" stroke-width="0.28" font-weight="normal" text-anchor="start">O</text>
<text x="150" y="15.3" font-size="9" fill="#089981" stroke="#089981" stroke-width="0.28" font-weight="normal" text-anchor="start" textLength="29.5" lengthAdjust="spacingAndGlyphs">101,473</text>
<text x="185.3" y="15.3" font-size="9" fill="#1f2024" stroke="#1f2024" stroke-width="0.28" font-weight="normal" text-anchor="start">H</text>
<text x="191.2" y="15.3" font-size="9" fill="#089981" stroke="#089981" stroke-width="0.28" font-weight="normal" text-anchor="start" textLength="29.8" lengthAdjust="spacingAndGlyphs">102,766</text>
<text x="226.8" y="15.3" font-size="9" fill="#1f2024" stroke="#1f2024" stroke-width="0.28" font-weight="normal" text-anchor="start">L</text>
<text x="232" y="15.3" font-size="9" fill="#089981" stroke="#089981" stroke-width="0.28" font-weight="normal" text-anchor="start" textLength="27.2" lengthAdjust="spacingAndGlyphs">98,943</text>
<text x="264.3" y="15.3" font-size="9" fill="#1f2024" stroke="#1f2024" stroke-width="0.28" font-weight="normal" text-anchor="start">C</text>
<text x="271.2" y="15.3" font-size="9" fill="#089981" stroke="#089981" stroke-width="0.28" font-weight="normal" text-anchor="start" textLength="30" lengthAdjust="spacingAndGlyphs">102,534</text>
<text x="307" y="15.3" font-size="9" fill="#089981" stroke="#089981" stroke-width="0.28" font-weight="normal" text-anchor="start" textLength="63" lengthAdjust="spacingAndGlyphs">+1,068 (+1.05%)</text>
<text x="5.9" y="26.8" font-size="9" fill="#1f2024" stroke="#1f2024" stroke-width="0.28" font-weight="normal" text-anchor="start" textLength="52.5" lengthAdjust="spacingAndGlyphs">Vol · BTC (14)</text>
<text x="63.7" y="26.8" font-size="9" fill="#089981" stroke="#089981" stroke-width="0.28" font-weight="normal" text-anchor="start" textLength="22.5" lengthAdjust="spacingAndGlyphs">1.47 K</text>
<text x="91.2" y="26.8" font-size="9" fill="#2962ff" stroke="#2962ff" stroke-width="0.28" font-weight="normal" text-anchor="start" textLength="21.8" lengthAdjust="spacingAndGlyphs">1.76 K</text>
<text x="5.9" y="38.45" font-size="9" fill="#1f2024" stroke="#1f2024" stroke-width="0.28" font-weight="normal" text-anchor="start" textLength="65.8" lengthAdjust="spacingAndGlyphs">EMA (200, close)</text>
<text x="77.5" y="38.45" font-size="9" fill="#ff9800" stroke="#ff9800" stroke-width="0.28" font-weight="normal" text-anchor="start" textLength="31.2" lengthAdjust="spacingAndGlyphs">108,269</text>
<text x="6.2" y="433.9" font-size="9" fill="#1f2024" stroke="#1f2024" stroke-width="0.28" font-weight="normal" text-anchor="start" textLength="54" lengthAdjust="spacingAndGlyphs">RSI (14, close)</text>
<text x="67" y="433.9" font-size="9" fill="#7e57c2" stroke="#7e57c2" stroke-width="0.28" font-weight="normal" text-anchor="start" textLength="21.5" lengthAdjust="spacingAndGlyphs">34.86</text>
<text x="94" y="433.9" font-size="9" fill="#fdd835" stroke="#fdd835" stroke-width="0.28" font-weight="normal" text-anchor="start" textLength="22.5" lengthAdjust="spacingAndGlyphs">44.84</text>
</g>
</svg>
</body></html>
